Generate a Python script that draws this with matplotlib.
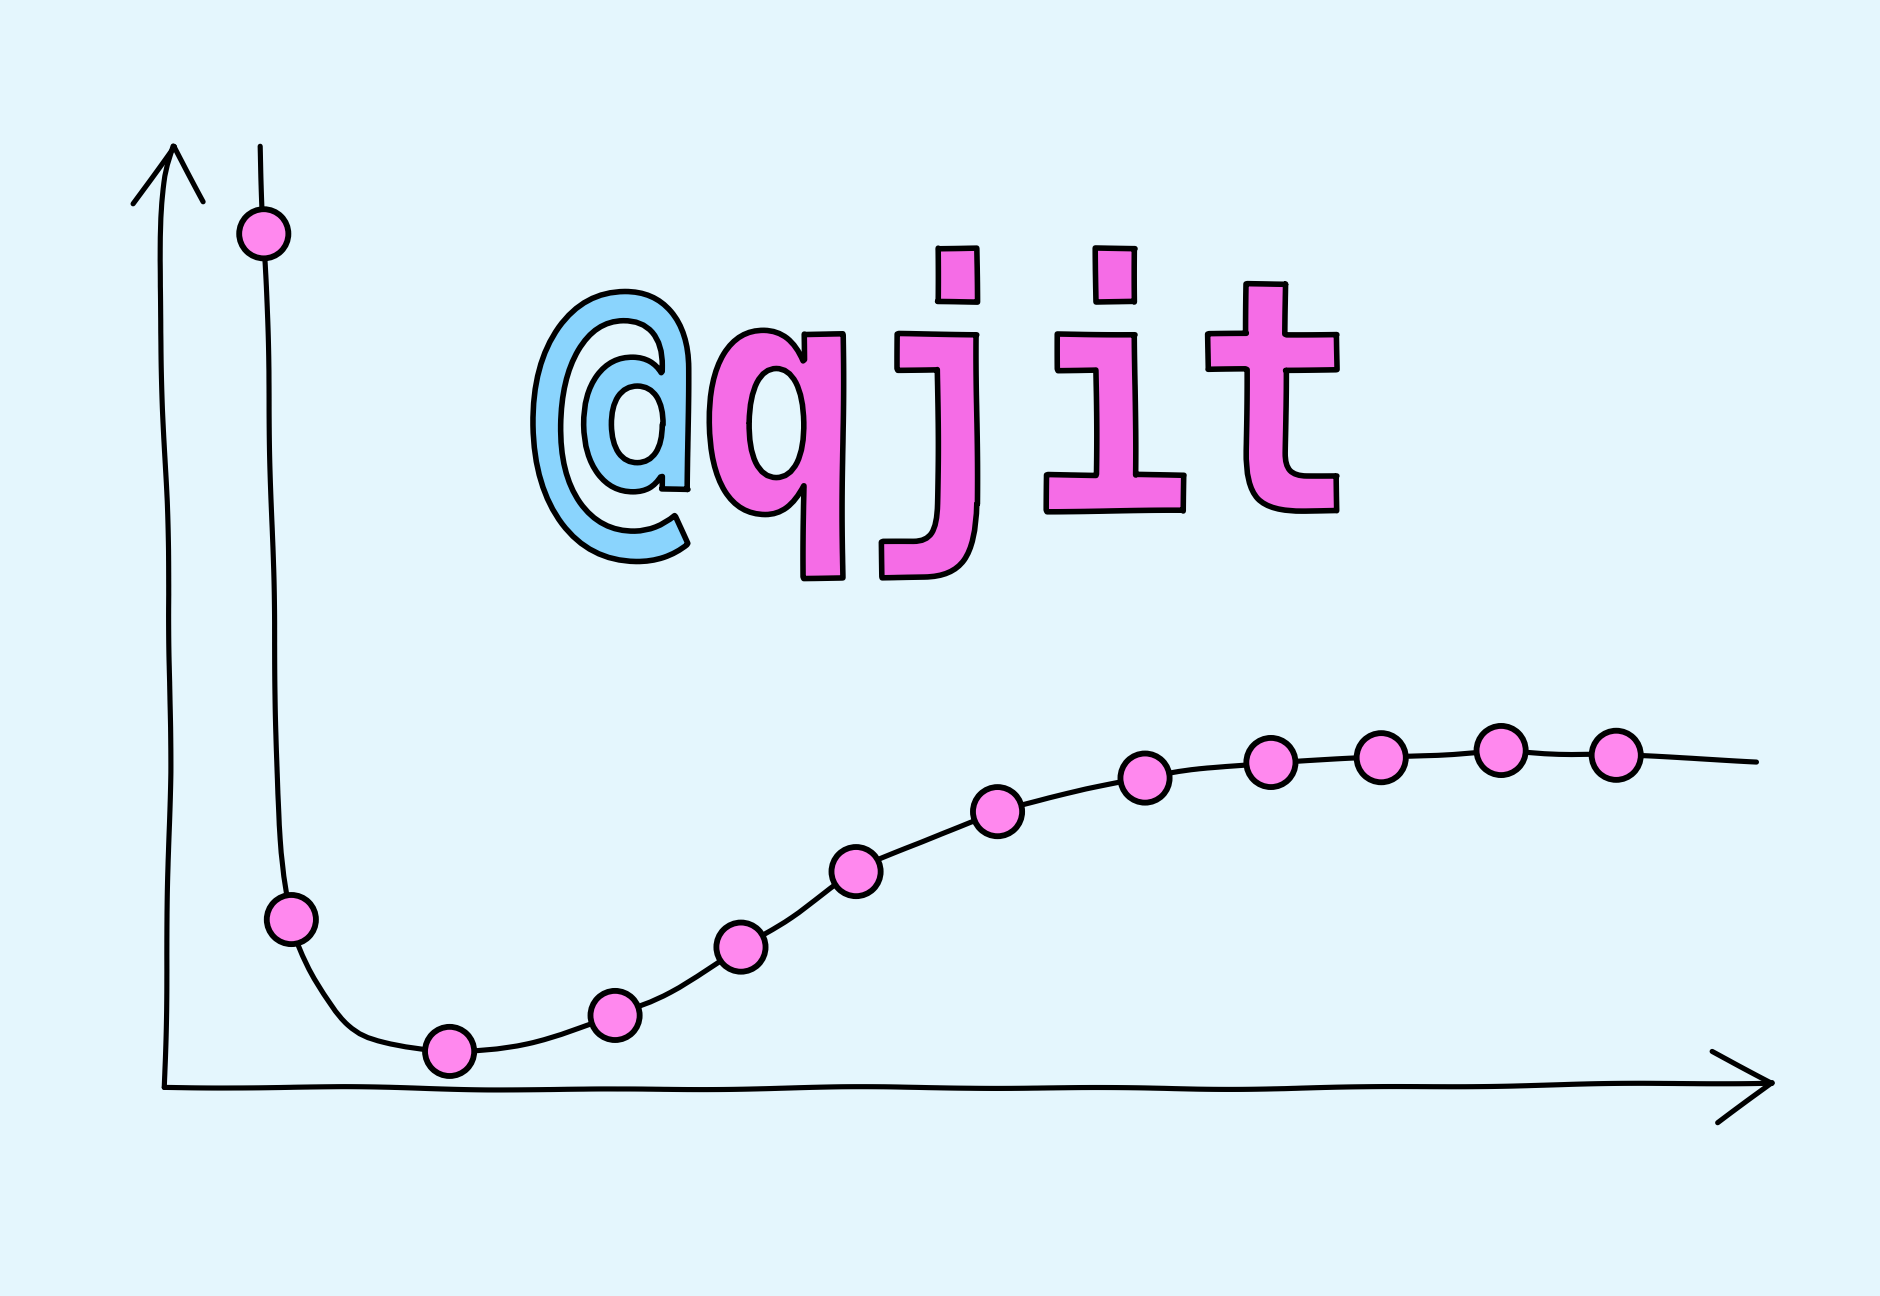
import matplotlib
matplotlib.use("Agg")
import numpy as np
import matplotlib.pyplot as plt
from matplotlib.textpath import TextPath
from matplotlib.font_manager import FontProperties
from matplotlib.patches import PathPatch, Circle
from matplotlib.path import Path
from matplotlib.transforms import Affine2D

# curve samples (x, y in chart units)
curve_x = [0.80, 0.83, 0.85, 0.89, 0.93, 0.96, 1.06, 1.13, 1.28, 1.53, 1.83, 2.38, 3.03,
           3.76, 4.23, 4.81, 5.23, 5.77, 6.33, 6.95, 7.53, 8.18, 8.63, 9.23, 9.63,
           10.15, 10.63, 11.15, 11.63, 12.11, 13.28]
curve_y = [7.85, 7.12, 6.67, 5.07, 3.27, 2.07, 1.40, 1.17, 0.87, 0.52, 0.37, 0.30, 0.37,
           0.60, 0.79, 1.17, 1.42, 1.80, 2.05, 2.30, 2.45, 2.58, 2.66, 2.71, 2.73,
           2.75, 2.77, 2.81, 2.78, 2.77, 2.72]

# measured points (marked with blobs)
point_x = [0.83, 1.06, 2.38, 3.76, 4.81, 5.77, 6.95, 8.18, 9.23, 10.15, 11.15, 12.11]
point_y = [7.12, 1.40, 0.30, 0.60, 1.17, 1.80, 2.30, 2.58, 2.71, 2.75, 2.81, 2.77]

title_chars = ["@", "q", "j", "i", "t"]
title_colors = ["#8AD4FD", "#F56CE6", "#F56CE6", "#F56CE6", "#F56CE6"]

BG = "#E4F6FD"
MARKER_PINK = "#FF88EE"
LW = 3.7

plt.rcParams["path.sketch"] = (0.8, 260, 1.5)


def smooth_path(xs, ys, t=1 / 6):
    # catmull-rom through the points, as cubic bezier segments
    pts = np.column_stack([xs, ys])
    n = len(pts)
    verts = [pts[0]]
    codes = [Path.MOVETO]
    for i in range(n - 1):
        p0 = pts[max(i - 1, 0)]
        p1 = pts[i]
        p2 = pts[i + 1]
        p3 = pts[min(i + 2, n - 1)]
        verts += [p1 + (p2 - p0) * t, p2 - (p3 - p1) * t, p2]
        codes += [Path.CURVE4] * 3
    return Path(verts, codes)


def stroke(ax, xs, ys, z=2):
    ax.add_patch(PathPatch(smooth_path(xs, ys), fill=False, edgecolor="black", lw=LW,
                           capstyle="round", joinstyle="round", zorder=z))


fig = plt.figure(figsize=(18.8, 12.96), dpi=100)
fig.patch.set_facecolor(BG)
ax = fig.add_axes([0, 0, 1, 1])
ax.set_facecolor(BG)
ax.set_xlim(-1.37, 14.31)
ax.set_ylim(-1.74, 9.07)
ax.axis("off")

# hand drawn axes with arrow heads
stroke(ax, [0, 0.03, 0.05, 0.03, -0.02, -0.04, 0.0, 0.08],
       [0, 1.5, 3.0, 4.5, 6.0, 7.0, 7.55, 7.85])
stroke(ax, [-0.26, 0.08], [7.37, 7.85])
stroke(ax, [0.08, 0.33], [7.85, 7.39])
stroke(ax, [0, 1.5, 3.5, 6.0, 9.0, 11.5, 13.41], [0, 0.0, -0.02, 0.0, -0.01, 0.02, 0.04])
stroke(ax, [12.91, 13.41], [0.30, 0.04])
stroke(ax, [13.41, 12.96], [0.04, -0.30])

# the curve and its blobs
stroke(ax, curve_x, curve_y, z=3)
for x, y in zip(point_x, point_y):
    blob = Circle((x, y), radius=0.205, facecolor=MARKER_PINK, edgecolor="black",
                  lw=4.2, zorder=4)
    blob.set_sketch_params(None)
    ax.add_patch(blob)

# title text as outlined glyph paths, squeezed into its box
fp = FontProperties(family="DejaVu Sans Mono", weight="bold")
adv = (TextPath((0, 0), "@@@@", size=1, prop=fp).get_extents().width
       - TextPath((0, 0), "@", size=1, prop=fp).get_extents().width) / 3
full = TextPath((0, 0), "".join(title_chars), size=1, prop=fp).get_extents()
x0, x1, y0, y1 = 3.08, 9.78, 4.25, 7.00
tr = (Affine2D().translate(-full.x0, -full.y0)
      .scale((x1 - x0) / full.width, (y1 - y0) / full.height)
      .translate(x0, y0))
for i, (ch, col) in enumerate(zip(title_chars, title_colors)):
    p = TextPath((i * adv, 0), ch, size=1, prop=fp)
    p = tr.transform_path(p)
    ax.add_patch(PathPatch(p, facecolor=col, edgecolor="black", lw=4.0,
                           joinstyle="round", zorder=5))

fig.savefig("out.png", dpi=100, facecolor=BG)
